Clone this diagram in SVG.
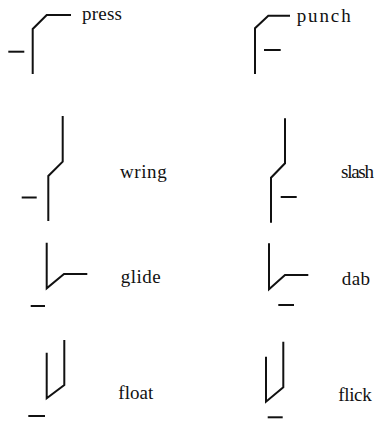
<svg xmlns="http://www.w3.org/2000/svg" width="375" height="423" viewBox="0 0 375 423">
<style>
.s{fill:none;stroke:#111;stroke-width:2;stroke-linecap:butt;stroke-linejoin:miter}
text{font-family:'Liberation Serif','DejaVu Serif','Times New Roman',serif;font-size:19px;fill:#111}
</style>
<rect width="375" height="423" fill="#fff"/>
<g id="press">
<path class="s" d="M71,15 H46.7 L32.7,29 V74"/>
<path class="s" d="M8.3,51.7 H24.3"/>
<text x="82" y="20" textLength="40" font-family="Liberation Serif, serif">press</text>
</g>
<g id="punch">
<path class="s" d="M290,15.7 H268.3 L255,28.3 V74"/>
<path class="s" d="M264,50 H280.7"/>
<text x="296.7" y="22" textLength="54" font-family="Liberation Serif, serif">punch</text>
</g>
<g id="wring">
<path class="s" d="M62.7,116 V161.7 L48.3,176 V221"/>
<path class="s" d="M21.7,197.5 H36.7"/>
<text x="120" y="177.5" textLength="46.7" font-family="Liberation Serif, serif">wring</text>
</g>
<g id="slash">
<path class="s" d="M285,118.3 V163.3 L271,177.7 V222.7"/>
<path class="s" d="M280.7,197 H296.7"/>
<text x="341" y="178" textLength="33" font-family="Liberation Serif, serif">slash</text>
</g>
<g id="glide">
<path class="s" d="M46.7,242.7 V288.3 L64,274 H87.3"/>
<path class="s" d="M30.7,306 H45"/>
<text x="120.7" y="283.3" textLength="40" font-family="Liberation Serif, serif">glide</text>
</g>
<g id="dab">
<path class="s" d="M269,243.3 V289.3 L285,275 H308.3"/>
<path class="s" d="M278.3,305 H294"/>
<text x="341.7" y="285" textLength="28.3" font-family="Liberation Serif, serif">dab</text>
</g>
<g id="float">
<path class="s" d="M46.7,352.7 V398.3 L64.3,385 V340"/>
<path class="s" d="M28.3,416 H45"/>
<text x="118.3" y="399.3" textLength="35" font-family="Liberation Serif, serif">float</text>
</g>
<g id="flick">
<path class="s" d="M266,356.7 V401.7 L283.3,387.3 V341.7"/>
<path class="s" d="M267.7,417.3 H282.7"/>
<text x="338.3" y="400.7" textLength="33.4" font-family="Liberation Serif, serif">flick</text>
</g>
<g id="connectors"/>
</svg>
